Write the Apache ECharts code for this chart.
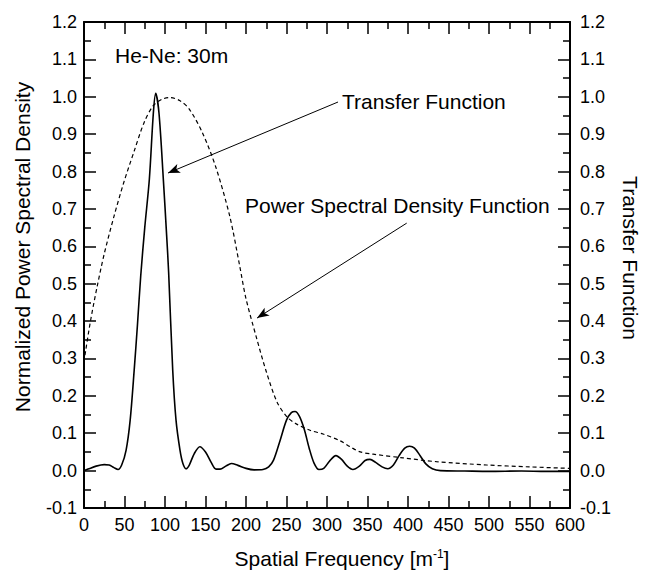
<!DOCTYPE html>
<html>
<head>
<meta charset="utf-8">
<script src="https://cdn.jsdelivr.net/npm/echarts@6/dist/echarts.min.js"></script>
<style>
  html, body { margin: 0; padding: 0; background: #fff; }
  #spectrum { width: 651px; height: 573px; }
</style>
</head>
<body>
<div id="spectrum"></div>
<script>
// normalized power spectral density (solid)
var psdFreq = [0, 5, 15, 25, 31, 37, 42, 46.5, 52, 57, 62, 66, 70, 75, 80.7, 85.6, 88.5, 92.6, 98, 102, 104.5, 109.5, 113.6, 118.5, 122, 126, 130, 136, 143, 150, 157, 163, 168, 175, 182, 190, 200, 210, 221, 228, 234, 242, 250, 256, 260.5, 266, 272, 278, 284, 290, 296, 303, 311, 318, 325, 332, 340, 347, 353, 360, 368, 375, 382, 389, 396, 402, 408, 415, 422, 430, 440, 470, 500, 540, 570, 600];
var psdValue = [0.0, 0.004, 0.012, 0.016, 0.015, 0.008, 0.003, 0.015, 0.055, 0.135, 0.27, 0.39, 0.52, 0.65, 0.78, 0.956, 1.009, 0.956, 0.777, 0.63, 0.53, 0.27, 0.135, 0.055, 0.02, 0.005, 0.015, 0.045, 0.064, 0.05, 0.022, 0.004, 0.004, 0.012, 0.019, 0.014, 0.006, 0.002, 0.003, 0.01, 0.028, 0.08, 0.135, 0.155, 0.158, 0.145, 0.11, 0.06, 0.02, 0.003, 0.006, 0.025, 0.04, 0.03, 0.012, 0.003, 0.012, 0.027, 0.03, 0.022, 0.01, 0.005, 0.015, 0.04, 0.06, 0.065, 0.06, 0.04, 0.018, 0.005, 0.0, -0.001, -0.002, -0.001, -0.002, -0.002];

// transfer function (dashed)
var tfFreq = [0, 2, 8, 16, 25, 37, 49, 62, 74, 85, 96, 106, 118, 130, 147, 163, 180, 192, 200, 213, 225, 238, 250, 262, 279, 295, 316, 330, 341, 357, 394, 435, 497, 550, 600];
var tfValue = [0.29, 0.32, 0.40, 0.49, 0.58, 0.68, 0.77, 0.855, 0.93, 0.975, 0.993, 0.998, 0.99, 0.967, 0.90, 0.81, 0.68, 0.55, 0.46, 0.355, 0.265, 0.185, 0.145, 0.125, 0.108, 0.098, 0.08, 0.062, 0.05, 0.044, 0.034, 0.024, 0.015, 0.01, 0.006];

// annotation arrows, [from, to] in data units
var tfArrow = [[313.6, 0.986], [103.7, 0.796]];
var psdArrow = [[398.4, 0.662], [213.6, 0.408]];

var xMin = 0, xMax = 600, xStep = 50;
var yMin = -0.1, yMax = 1.2, yStep = 0.1;

var font = 'Liberation Sans, Arial, sans-serif';

// plot box in pixels (grid), used to turn tick lengths into data units
var W = 651, H = 573;
var gLeft = 84, gRight = 81, gTop = 22, gBottom = 65;
var xPerPx = (xMax - xMin) / (W - gLeft - gRight);
var yPerPx = (yMax - yMin) / (H - gTop - gBottom);

function pairs(xs, ys) {
  var out = [];
  for (var i = 0; i < xs.length; i++) out.push([xs[i], ys[i]]);
  return out;
}

function xAxisOf(pos, showLabel) {
  return {
    type: 'value', position: pos, min: xMin, max: xMax, interval: xStep,
    axisLine: { show: true, onZero: false, lineStyle: { color: '#000', width: 2 } },
    axisTick: { show: false },
    axisLabel: { show: showLabel, margin: 8, fontSize: 18, color: '#000', fontFamily: font },
    splitLine: { show: false }
  };
}
function yAxisOf(pos) {
  return {
    type: 'value', position: pos, min: yMin, max: yMax, interval: yStep,
    axisLine: { show: true, onZero: false, lineStyle: { color: '#000', width: 2 } },
    axisTick: { show: false },
    axisLabel: {
      margin: pos === 'left' ? 7 : 10, fontSize: 18, color: '#000', fontFamily: font,
      formatter: function(v) { return v.toFixed(1); }
    },
    splitLine: { show: false }
  };
}

function arrow(a) {
  return [
    { coord: a[0], symbol: 'none', lineStyle: { width: 1 } },
    { coord: a[1], symbol: 'arrow', symbolSize: [7, 12] }
  ];
}
function seg(a, b) {
  return [{ coord: a, symbol: 'none' }, { coord: b, symbol: 'none' }];
}

// inward major (12px) and minor (7px) ticks on all four sides
var tickLines = [];
var nx = Math.round((xMax - xMin) / xStep * 2);
var ny = Math.round((yMax - yMin) / yStep * 2);
for (var i = 0; i <= nx; i++) {
  var xv = xMin + i * xStep / 2;
  var dy = (i % 2 === 0 ? 12 : 7) * yPerPx;
  tickLines.push(seg([xv, yMin], [xv, yMin + dy]));
  tickLines.push(seg([xv, yMax], [xv, yMax - dy]));
}
for (var j = 0; j <= ny; j++) {
  var yv = yMin + j * yStep / 2;
  var dx = (j % 2 === 0 ? 12 : 7) * xPerPx;
  tickLines.push(seg([xMin, yv], [xMin + dx, yv]));
  tickLines.push(seg([xMax, yv], [xMax - dx, yv]));
}

var chart = echarts.init(document.getElementById('spectrum'), null, { renderer: 'svg' });
chart.setOption({
  animation: false,
  backgroundColor: '#fff',
  grid: { left: gLeft, right: gRight, top: gTop, bottom: gBottom },
  xAxis: [xAxisOf('bottom', true), xAxisOf('top', false)],
  yAxis: [yAxisOf('left'), yAxisOf('right')],
  graphic: [
    { type: 'text', x: 115, y: 55, style: { text: 'He-Ne: 30m', font: '21px ' + font, fill: '#000', verticalAlign: 'middle' } },
    { type: 'text', x: 342, y: 101, style: { text: 'Transfer Function', font: '21px ' + font, fill: '#000', verticalAlign: 'middle' } },
    { type: 'text', x: 245, y: 205, style: { text: 'Power Spectral Density Function', font: '21px ' + font, fill: '#000', verticalAlign: 'middle' } },
    {
      type: 'text', x: 342, y: 558,
      style: {
        text: 'Spatial Frequency [m{sup|-1}]', font: '21px ' + font, fill: '#000',
        align: 'center', verticalAlign: 'middle',
        rich: { sup: { fontSize: 12, fontFamily: font, verticalAlign: 'top', fill: '#000' } }
      }
    },
    { type: 'text', x: 22, y: 247, rotation: Math.PI / 2, style: { text: 'Normalized Power Spectral Density', font: '21px ' + font, fill: '#000', align: 'center', verticalAlign: 'middle' } },
    { type: 'text', x: 630, y: 258, rotation: -Math.PI / 2, style: { text: 'Transfer Function', font: '21px ' + font, fill: '#000', align: 'center', verticalAlign: 'middle' } }
  ],
  series: [
    {
      name: 'Power Spectral Density',
      type: 'line',
      xAxisIndex: 0, yAxisIndex: 0,
      data: pairs(psdFreq, psdValue),
      smooth: 0.3,
      showSymbol: false,
      lineStyle: { color: '#000', width: 1.6 },
      markLine: {
        silent: true,
        animation: false,
        label: { show: false },
        emphasis: { disabled: true },
        lineStyle: { color: '#000', width: 1.5, type: 'solid' },
        data: [arrow(tfArrow), arrow(psdArrow)].concat(tickLines)
      }
    },
    {
      name: 'Transfer Function',
      type: 'line',
      xAxisIndex: 0, yAxisIndex: 1,
      data: pairs(tfFreq, tfValue),
      smooth: 0.3,
      showSymbol: false,
      lineStyle: { color: '#000', width: 1.2, type: [4, 3] }
    }
  ]
});
</script>
</body>
</html>
